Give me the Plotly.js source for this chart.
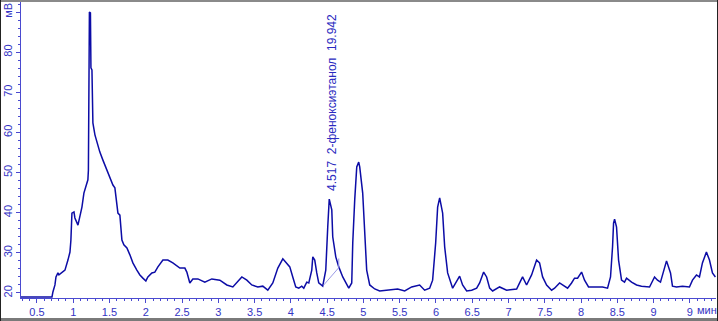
<!DOCTYPE html>
<html>
<head>
<meta charset="utf-8">
<script src="https://cdn.plot.ly/plotly-3.0.1.min.js"></script>
<style>
html,body{margin:0;padding:0;background:#fff;}
#wrap{position:relative;width:718px;height:321px;overflow:hidden;}
#chart{position:absolute;left:0;top:0;width:718px;height:321px;}
.edge{position:absolute;pointer-events:none;}
</style>
</head>
<body>
<div id="wrap">
<div id="chart"></div>
<div class="edge" style="left:0;top:0;width:718px;height:2px;background:#8a8a8a;"></div>
<div class="edge" style="left:0;top:318px;width:718px;height:3px;background:#7a7a7a;"></div>
<div class="edge" style="left:0;top:0;width:1px;height:321px;background:#222;"></div>
<div class="edge" style="left:717px;top:0;width:1px;height:321px;background:#222;"></div>
</div>
<script>
// Retention time (min)
const timeMin = [0.280,0.707,0.720,0.748,0.762,0.775,0.789,0.803,0.844,0.886,0.927,0.955,0.968,0.982,1.010,1.023,1.065,1.079,1.120,1.147,1.175,1.202,1.209,1.211,1.223,1.237,1.244,1.258,1.262,1.271,1.299,1.326,1.367,1.409,1.464,1.505,1.547,1.574,1.602,1.616,1.643,1.657,1.671,1.698,1.740,1.781,1.822,1.877,1.919,1.960,2.001,2.029,2.084,2.125,2.167,2.236,2.304,2.373,2.470,2.539,2.566,2.607,2.649,2.718,2.814,2.910,3.021,3.117,3.200,3.324,3.393,3.461,3.544,3.613,3.682,3.751,3.820,3.889,3.930,3.985,4.026,4.067,4.109,4.150,4.178,4.219,4.247,4.288,4.302,4.329,4.357,4.384,4.439,4.481,4.508,4.529,4.564,4.577,4.619,4.660,4.715,4.770,4.798,4.839,4.853,4.880,4.908,4.935,4.949,4.990,5.018,5.045,5.087,5.156,5.224,5.321,5.403,5.472,5.569,5.665,5.775,5.844,5.913,5.954,5.996,6.023,6.051,6.092,6.120,6.161,6.230,6.299,6.326,6.367,6.423,6.492,6.561,6.602,6.657,6.698,6.740,6.781,6.877,6.974,7.112,7.153,7.194,7.249,7.318,7.387,7.428,7.470,7.525,7.594,7.635,7.704,7.745,7.814,7.869,7.910,7.952,8.007,8.048,8.103,8.213,8.296,8.365,8.406,8.434,8.448,8.462,8.489,8.517,8.558,8.599,8.627,8.696,8.765,8.833,8.944,9.013,9.054,9.095,9.136,9.178,9.233,9.260,9.315,9.398,9.494,9.536,9.591,9.632,9.673,9.728,9.770,9.811,9.852];
// Detector signal (mV)
const signalMv = [19.0,19.0,20.25,22.0,24.0,24.5,25.0,24.5,25.0,25.7,28.2,30.2,33.2,39.9,40.2,38.7,36.9,38.2,41.4,44.9,46.4,48.2,50.6,70.2,90.0,89.8,76.1,75.6,66.3,62.4,59.4,57.4,55.1,53.1,50.6,48.6,46.9,46.2,40.7,39.9,39.4,36.4,33.2,32.0,31.2,29.5,27.5,25.7,24.5,23.7,23.0,24.0,25.0,25.2,26.5,28.2,28.2,27.5,26.2,26.2,25.2,22.5,23.5,23.5,22.7,23.5,23.2,22.0,21.5,24.0,23.2,22.0,21.5,21.7,20.7,22.5,26.2,28.5,27.7,26.5,24.0,21.5,21.2,21.7,21.2,22.7,22.5,25.7,29.0,28.2,25.0,22.5,21.7,25.7,36.4,43.4,40.7,34.0,29.0,26.5,24.0,22.0,21.2,22.5,32.5,43.2,51.4,52.6,51.4,44.9,34.9,25.7,22.0,21.0,20.5,20.7,20.7,21.0,20.5,21.5,22.0,20.7,21.2,23.2,32.5,41.4,43.7,39.9,31.5,25.0,21.2,23.2,24.2,22.0,20.5,20.7,21.2,22.5,25.2,24.0,21.2,20.5,21.5,20.7,21.0,22.5,24.0,22.0,24.5,28.2,27.5,24.0,22.0,20.7,21.2,22.5,22.0,21.2,22.5,23.7,23.7,25.2,23.2,21.5,21.5,21.5,21.2,24.0,31.5,37.4,38.4,36.4,28.2,23.2,22.7,23.7,22.7,22.0,21.7,21.5,24.0,23.2,22.7,25.7,28.0,25.0,21.7,21.5,21.7,21.5,23.2,24.5,24.0,27.5,30.2,28.2,25.0,24.0];
// Integration baseline of the 4.517 peak
const baseTime = [4.453,4.660,4.660];
const baseMv = [22.0,26.3,28.6];
// Axis ticks (the last x label is partly hidden behind the unit in the original)
const xTickVals = [0.5,1,1.5,2,2.5,3,3.5,4,4.5,5,5.5,6,6.5,7,7.5,8,8.5,9,9.5];
const xTickText = ['0.5','1','1.5','2','2.5','3','3.5','4','4.5','5','5.5','6','6.5','7','7.5','8','8.5','9','9'];
const yTickVals = [20,30,40,50,60,70,80,90];
const yTickText = ['20','30','40','50','60','70','80','мВ'];
const peakLabel = '4.517  2-феноксиэтанол  19.942';
const peakTime = 4.517;

const tickFont = {family:'Liberation Sans, Arial, sans-serif', size:11, color:'#3434c4'};
const axisCol = '#4a4ad0';

const traces = [
  {x: timeMin, y: signalMv, type:'scatter', mode:'lines',
   line:{color:'#0c0ca6', width:1.5}, hoverinfo:'skip'},
  {x: baseTime, y: baseMv, type:'scatter', mode:'lines',
   line:{color:'#9a9ae6', width:1}, hoverinfo:'skip'}
];

const layout = {
  width:718, height:321,
  margin:{l:21, r:2, t:2, b:23, pad:0},
  paper_bgcolor:'#ffffff', plot_bgcolor:'#ffffff',
  showlegend:false,
  xaxis:{
    range:[0.28,9.86], showgrid:false, zeroline:false,
    showline:true, linecolor:axisCol, linewidth:1,
    ticks:'outside', ticklen:4, tickcolor:axisCol, tickwidth:1,
    tickvals:xTickVals, ticktext:xTickText, tickfont:tickFont,
    minor:{dtick:0.1, tick0:0, ticks:'outside', ticklen:2, tickcolor:axisCol, showgrid:false}
  },
  yaxis:{
    range:[18.75,92.5], showgrid:false, zeroline:false,
    showline:true, linecolor:axisCol, linewidth:1,
    ticks:'outside', ticklen:4, tickcolor:axisCol, tickwidth:1,
    tickvals:yTickVals, ticktext:yTickText, tickfont:tickFont, tickangle:-90,
    minor:{dtick:2, tick0:0, ticks:'outside', ticklen:2, tickcolor:axisCol, showgrid:false}
  },
  annotations:[
    {x:peakTime, y:44.9, xref:'x', yref:'y', text:peakLabel, textangle:-90,
     showarrow:false, xanchor:'center', yanchor:'bottom', xshift:3,
     font:{family:'Liberation Sans, Arial, sans-serif', size:12, color:'#2a2ac0'}},
    {x:1, y:0, xref:'paper', yref:'paper', text:'мин', showarrow:false,
     xanchor:'right', yanchor:'top', yshift:-5, xshift:2, borderpad:0,
     font:{family:'Liberation Sans, Arial, sans-serif', size:11, color:'#3434c4'}}
  ]
};

Plotly.newPlot('chart', traces, layout, {displayModeBar:false, staticPlot:true});
</script>
</body>
</html>
